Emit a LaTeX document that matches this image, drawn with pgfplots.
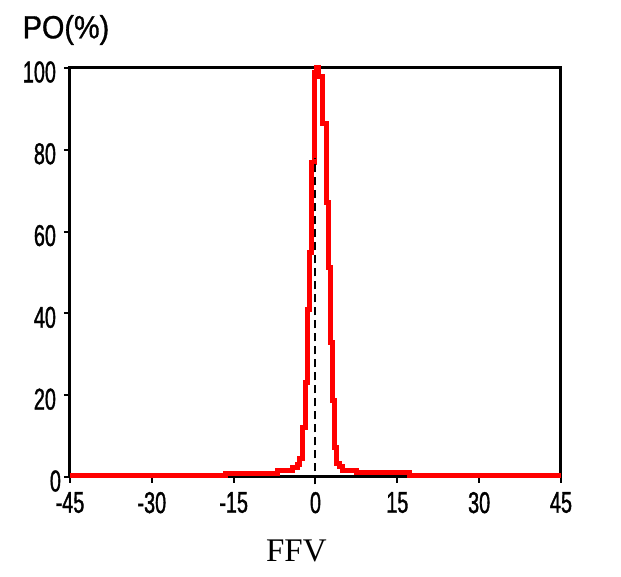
\documentclass[border=0pt]{standalone}
\usepackage{fontspec}
\setmainfont{Liberation Sans}
\newfontfamily\serifff{Liberation Serif}
\newfontfamily\tickfont[FakeStretch=0.66,FakeBold=1.2]{Liberation Sans}
\newfontfamily\titlefont[FakeStretch=0.9,FakeBold=1]{Liberation Sans}
\usepackage{pgfplots}
\pgfplotsset{compat=1.18}
\begin{document}
\begin{tikzpicture}
\begin{axis}[
  at={(0,0)}, anchor=south west,
  width=245.5pt, height=204.5pt, scale only axis,
  xmin=-45, xmax=45, ymin=0, ymax=100,
  xtick={-45,-30,-15,0,15,30,45},
  ytick={0,20,40,60,80,100},
  yticklabels={{\raisebox{-1pt}{0}\kern-2.5pt},20,40,60,80,100},
  axis line style={line width=1.5pt},
  tick style={line width=1pt, black},
  tick align=outside, major tick length=3pt,
  xtick pos=bottom, ytick pos=left,
  /pgf/number format/assume math mode=true,
  ticklabel style={font=\tickfont\fontsize{15}{17}\selectfont},
  yticklabel style={yshift=-2pt, xshift=-0.5pt},
  xticklabel style={yshift=-1pt},
  clip=false,
]
\addplot[red, line width=2.5pt, line join=miter] coordinates {
(-45,0.3) (-16.5,0.3) (-16.5,0.9) (-6.9,0.9) (-6.9,1.6) (-4.2,1.6) (-4.2,2.3)
(-3.3,2.3) (-3.3,3.0) (-2.9,3.0) (-2.9,4.6) (-2.3,4.6) (-2.3,12) (-1.9,12)
(-1.9,23) (-1.45,23) (-1.45,41) (-1.1,41) (-1.1,55) (-0.7,55) (-0.7,77)
(-0.25,77) (-0.25,99) (0.2,99) (0.2,100) (0.6,100) (0.6,98) (1.3,98)
(1.3,86.5) (1.95,86.5) (1.95,67) (2.4,67) (2.4,51.3) (2.75,51.3) (2.75,32.8)
(3.1,32.8) (3.1,18.8) (3.4,18.8) (3.4,7.3) (3.8,7.3) (3.8,3.4) (4.4,3.4)
(4.4,2.5) (5.0,2.5) (5.0,1.5) (7.6,1.5) (7.6,1.0) (17.3,1.0) (17.3,0.3) (45,0.3)
};
\addplot[black, line width=1pt, dash pattern=on 4pt off 2.5pt] coordinates {(0,-1.8) (0,78)};
\node[font=\titlefont\fontsize{16}{18}\selectfont] at ([xshift=-2pt,yshift=19pt]axis description cs:0,1) {PO(\%)};
\node[font=\serifff\fontsize{16.5}{18}\selectfont] at ([yshift=-37pt]axis description cs:0.461,0) {FFV};
\end{axis}
\path[use as bounding box] (-35pt,-50pt) rectangle (275.5pt,238.5pt);
\end{tikzpicture}
\end{document}
